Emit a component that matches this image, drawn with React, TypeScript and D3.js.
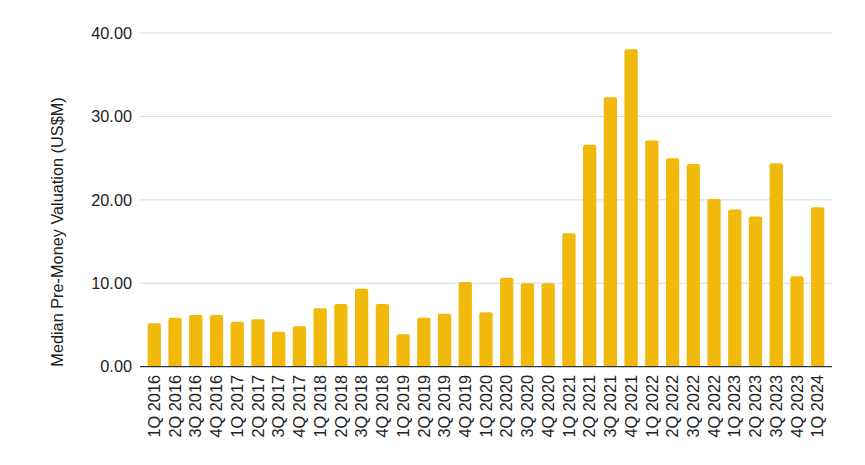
import React from "react";
import * as d3 from "d3";

const categories = [
  "1Q 2016", "2Q 2016", "3Q 2016", "4Q 2016",
  "1Q 2017", "2Q 2017", "3Q 2017", "4Q 2017",
  "1Q 2018", "2Q 2018", "3Q 2018", "4Q 2018",
  "1Q 2019", "2Q 2019", "3Q 2019", "4Q 2019",
  "1Q 2020", "2Q 2020", "3Q 2020", "4Q 2020",
  "1Q 2021", "2Q 2021", "3Q 2021", "4Q 2021",
  "1Q 2022", "2Q 2022", "3Q 2022", "4Q 2022",
  "1Q 2023", "2Q 2023", "3Q 2023", "4Q 2023",
  "1Q 2024",
];

const values = [
  5.2, 5.88, 6.2, 6.2,
  5.4, 5.68, 4.2, 4.84,
  7.0, 7.52, 9.35, 7.52,
  3.88, 5.88, 6.36, 10.15,
  6.52, 10.67, 10.0, 10.0,
  16.0, 26.6, 32.3, 38.05,
  27.1, 25.0, 24.3, 20.1,
  18.84, 18.0, 24.4, 10.84,
  19.12,
];

const yTicks = [0, 10, 20, 30, 40];
const yTitle = "Median Pre-Money Valuation (US$M)";

const W = 865;
const H = 465;
const left = 140;
const right = 832;
const top = 33;
const bottom = 366.7;
const fs = 16.3;
const font = "Arial, 'Liberation Sans', Helvetica, sans-serif";

export default function App() {
  const x = d3
    .scaleBand<string>()
    .domain(categories)
    .range([left, right])
    .paddingInner(0.36)
    .paddingOuter(0.37);
  const y = d3.scaleLinear().domain([0, 40]).range([bottom, top]);
  const bw = x.bandwidth();

  return (
    <svg
      width={W}
      height={H}
      style={{ position: "absolute", left: 0, top: 0, background: "#fff" }}
      fontFamily={font}
    >
      {yTicks.map((t) => (
        <g key={t}>
          {t !== 0 && (
            <line x1={left} x2={right} y1={y(t)} y2={y(t)} stroke="#d9d9d9" strokeWidth={1} />
          )}
          <text
            x={132}
            y={y(t)}
            dy="0.35em"
            textAnchor="end"
            fontSize={fs}
            fill="#222"
          >
            {d3.format(".2f")(t)}
          </text>
        </g>
      ))}
      {categories.map((c, i) => {
        const x0 = x(c)!;
        const y0 = y(values[i]);
        const h = bottom - y0;
        const r = 2;
        const d = `M${x0},${bottom} V${y0 + r} Q${x0},${y0} ${x0 + r},${y0} H${x0 + bw - r} Q${x0 + bw},${y0} ${x0 + bw},${y0 + r} V${bottom} Z`;
        return <path key={c} d={h > r ? d : ""} fill="#F0B90B" />;
      })}
      <line x1={left} x2={right} y1={bottom} y2={bottom} stroke="#333" strokeWidth={1.2} />
      {categories.map((c) => {
        const cx = x(c)! + bw / 2;
        return (
          <text
            key={c}
            transform={`translate(${cx},${375}) rotate(-90)`}
            textAnchor="end"
            dy="0.35em"
            fontSize={fs}
            fill="#222"
          >
            {c}
          </text>
        );
      })}
      <text
        transform={`translate(57,232) rotate(-90)`}
        textAnchor="middle"
        dy="0.35em"
        fontSize={fs}
        fill="#222"
      >
        {yTitle}
      </text>
    </svg>
  );
}
